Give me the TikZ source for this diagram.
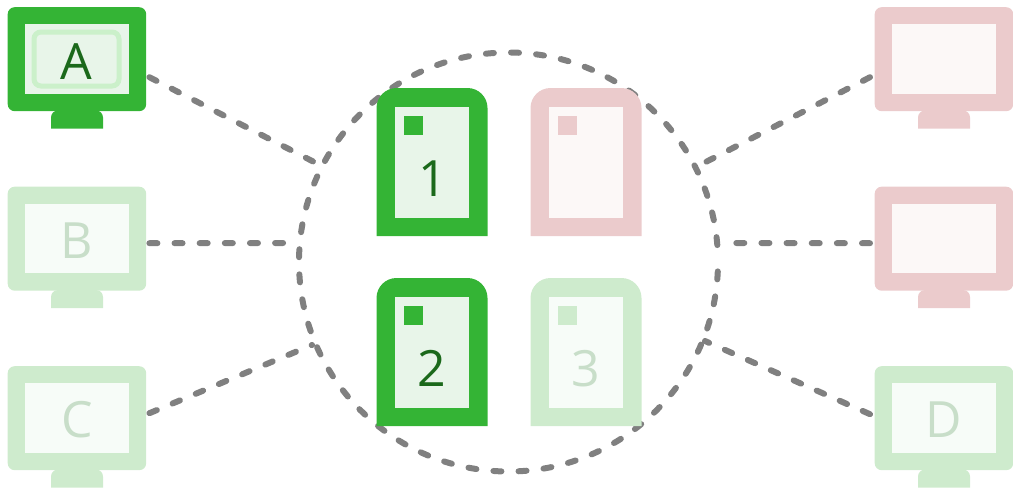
\documentclass[tikz,border=0pt]{standalone}
\usepackage{fontspec}
\setmainfont{Open Sans}
\definecolor{gOn}{HTML}{34B435}
\definecolor{gOnIn}{HTML}{E8F5E9}
\definecolor{gOnTx}{HTML}{1B691B}
\definecolor{gOff}{HTML}{CEEBCD}
\definecolor{gOffIn}{HTML}{F7FCF8}
\definecolor{gOffTx}{HTML}{C8DEC9}
\definecolor{rOff}{HTML}{EBCBCC}
\definecolor{rOffIn}{HTML}{FCF8F7}
\definecolor{linkc}{HTML}{808080}
\definecolor{halo}{HTML}{CBF0CA}
\tikzset{
  x=1pt,y=-1pt,
  dashrule/.style={draw=linkc,line width=6pt,line cap=round,dash pattern=on 8pt off 17.14pt},
  link/.style={dashrule},
  lab/.style={font=\fontsize{50}{50}\selectfont,inner sep=0pt},
}
% #1 name, #2 x, #3 y, #4 outer, #5 inner, #6 text colour, #7 label
\newcommand{\monitorbox}[7]{%
  \fill[#4] (#2+43.5,#3+121.5) [rounded corners=7pt] -- (#2+43.5,#3+103.5) -- (#2+95.5,#3+103.5) [sharp corners] -- (#2+95.5,#3+121.5) -- cycle;
  \node[fill=#4,rounded corners=7pt,minimum width=138.5pt,minimum height=104pt,inner sep=0pt,anchor=north west] (#1) at (#2,#3) {};
  \node[fill=#5,minimum width=104pt,minimum height=69.5pt,inner sep=0pt] (#1s) at (#1.center) {};
  \node[lab,text=#6] (#1t) at ([yshift=-1.5pt]#1.center) {#7};
}
% #1 name, #2 x, #3 y, #4 outer, #5 inner, #6 text colour, #7 label, #8 label x shift
\newcommand{\devicebox}[8]{%
  \fill[#4] (#2,#3+148) [rounded corners=20pt] -- (#2,#3) -- (#2+111,#3) [sharp corners] -- (#2+111,#3+148) -- cycle;
  \node[fill=#5,minimum width=74pt,minimum height=111.5pt,inner sep=0pt,anchor=north west] (#1) at (#2+18.5,#3+18.5) {};
  \node[fill=#4,minimum size=18.5pt,inner sep=0pt,anchor=north west] (#1m) at (#2+27.5,#3+28) {};
  \node[lab,text=#6] (#1t) at ([xshift=#8,yshift=-16pt]#1.center) {#7};
}
\begin{document}
\begin{tikzpicture}
\useasboundingbox (0,0) rectangle (1013,490);
\node[dashrule,dash phase=8.2pt,circle,minimum size=419pt,inner sep=0pt] (hub) at (508.5,262) {};
\coordinate (hubA) at (316,163);
\coordinate (hubB) at (290,243);
\coordinate (hubC) at (312,345);
\coordinate (hubE) at (700,165);
\coordinate (hubF) at (733,243);
\coordinate (hubD) at (705,341);
\monitorbox{mA}{7.5}{7}{gOn}{gOnIn}{gOnTx}{}
\node[draw=halo,line width=5pt,fill=gOnIn,rounded corners=7pt,minimum width=85pt,minimum height=54pt,inner sep=0pt] (mAh) at (76.5,59) {};
\node[lab,text=gOnTx] (mAl) at (76.5,62) {A};
\monitorbox{mB}{7.5}{186.5}{gOff}{gOffIn}{gOffTx}{B}
\monitorbox{mC}{7.5}{366}{gOff}{gOffIn}{gOffTx}{C}
\monitorbox{mE}{874.5}{7}{rOff}{rOffIn}{gOffTx}{}
\monitorbox{mF}{874.5}{186.5}{rOff}{rOffIn}{gOffTx}{}
\monitorbox{mD}{874.5}{366}{gOff}{gOffIn}{gOffTx}{D}
\devicebox{d1}{376.5}{88}{gOn}{gOnIn}{gOnTx}{1}{1pt}
\devicebox{dP}{530.5}{88}{rOff}{rOffIn}{gOffTx}{}{0pt}
\devicebox{d2}{376.5}{278}{gOn}{gOnIn}{gOnTx}{2}{0pt}
\devicebox{d3}{530.5}{278}{gOff}{gOffIn}{gOffTx}{3}{0pt}
\draw[link] ([xshift=3pt,yshift=-18pt]mA.east) -- (hubA);
\draw[link] ([xshift=3pt,yshift=-4.5pt]mB.east) -- (hubB);
\draw[link] ([xshift=3pt,yshift=5pt]mC.east) -- (hubC);
\draw[link] ([xshift=-4.5pt,yshift=-18pt]mE.west) -- (hubE);
\draw[link] ([xshift=-4.5pt,yshift=-4.5pt]mF.west) -- (hubF);
\draw[link] ([xshift=-4.5pt,yshift=4pt]mD.west) -- (hubD);
\end{tikzpicture}
\end{document}
